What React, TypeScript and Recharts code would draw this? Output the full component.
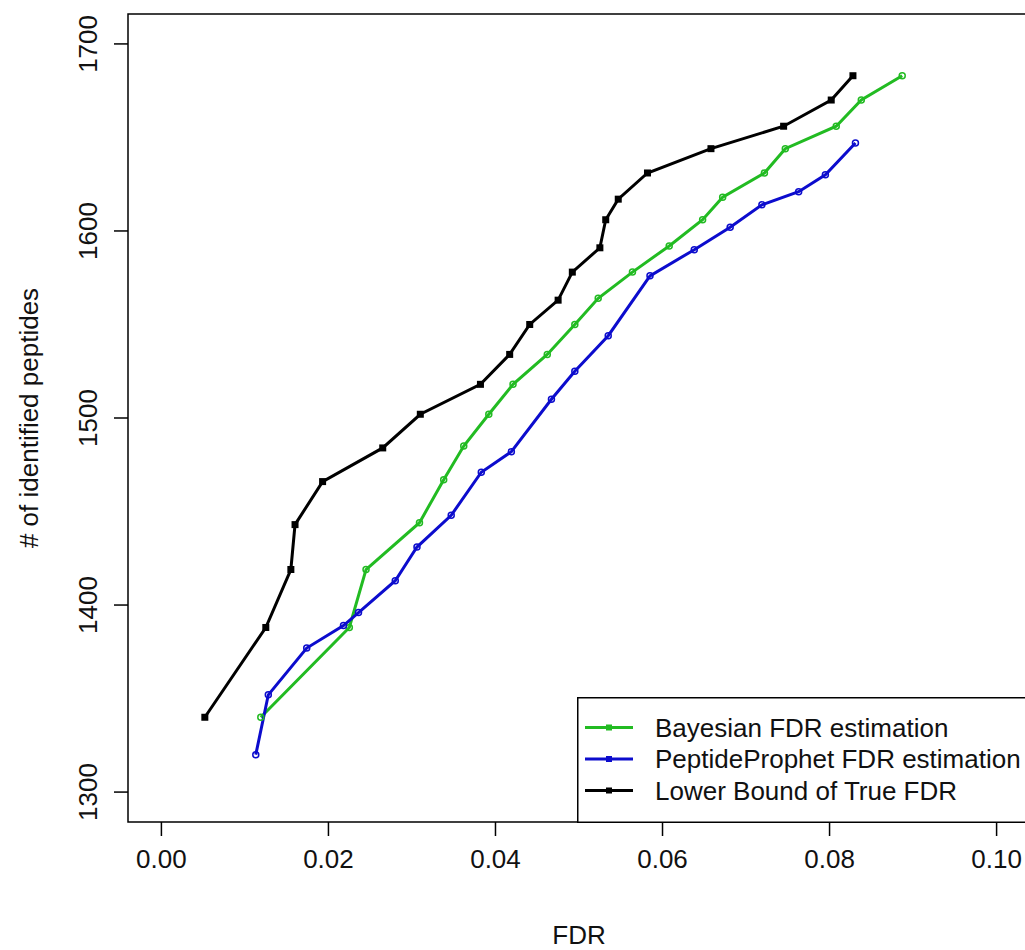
import { ReactElement } from "react";
import {
  LineChart,
  Line,
  XAxis,
  YAxis,
  Legend,
  ReferenceArea,
} from "recharts";

// FDR thresholds and peptide counts per method
const bayesFdr = [
  0.0119, 0.0225, 0.0245, 0.0309, 0.0338, 0.0362, 0.0392, 0.0421, 0.0462, 0.0495,
  0.0523, 0.0564, 0.0608, 0.0648, 0.0672, 0.0722, 0.0747, 0.0808, 0.0838, 0.0887,
];
const bayesPeptides = [
  1340, 1388, 1419, 1444, 1467, 1485, 1502, 1518, 1534, 1550,
  1564, 1578, 1592, 1606, 1618, 1631, 1644, 1656, 1670, 1683,
];

const prophetFdr = [
  0.0113, 0.0128, 0.0174, 0.0218, 0.0236, 0.028, 0.0306, 0.0347, 0.0383, 0.0419,
  0.0467, 0.0495, 0.0535, 0.0585, 0.0638, 0.0681, 0.0719, 0.0763, 0.0795, 0.0831,
];
const prophetPeptides = [
  1320, 1352, 1377, 1389, 1396, 1413, 1431, 1448, 1471, 1482,
  1510, 1525, 1544, 1576, 1590, 1602, 1614, 1621, 1630, 1647,
];

const boundFdr = [
  0.0052, 0.0125, 0.0155, 0.016, 0.0193, 0.0265, 0.031, 0.0382, 0.0417, 0.0441,
  0.0475, 0.0492, 0.0525, 0.0532, 0.0547, 0.0582, 0.0658, 0.0745, 0.0802, 0.0828,
];
const boundPeptides = [
  1340, 1388, 1419, 1443, 1466, 1484, 1502, 1518, 1534, 1550,
  1563, 1578, 1591, 1606, 1617, 1631, 1644, 1656, 1670, 1683,
];

const seriesNames = [
  "Bayesian FDR estimation",
  "PeptideProphet FDR estimation",
  "Lower Bound of True FDR",
];

const xTicks = [0, 0.02, 0.04, 0.06, 0.08, 0.1];
const yTicks = [1300, 1400, 1500, 1600, 1700];

const X_DOMAIN: [number, number] = [-0.004, 0.104];
const Y_DOMAIN: [number, number] = [1284, 1716];

const FONT = "'Liberation Sans', Arial, sans-serif";
const FONT_SIZE = 26;
const GREEN = "#22bb22";
const BLUE = "#0c0ccd";

const toPoints = (xs: number[], ys: number[]) => xs.map((x, i) => ({ fdr: x, count: ys[i] }));

const XTick = (props: any) => {
  const { x, y, payload } = props;
  return (
    <text x={x} y={y + 21} textAnchor="middle" dominantBaseline="central" fontSize={FONT_SIZE} fontFamily={FONT} fill="#111">
      {payload.value.toFixed(2)}
    </text>
  );
};

const YTick = (props: any) => {
  const { x, y, payload } = props;
  const tx = x - 24;
  return (
    <text
      x={tx}
      y={y}
      transform={`rotate(-90, ${tx}, ${y})`}
      textAnchor="middle"
      dominantBaseline="central"
      fontSize={FONT_SIZE}
      fontFamily={FONT}
      fill="#111"
    >
      {payload.value}
    </text>
  );
};

const SquareDot = (props: any) => {
  const { cx, cy, index } = props;
  return <rect key={`sq-${index}`} x={cx - 3.5} y={cy - 3.5} width={7} height={7} fill="#000" />;
};

// legend rows keep the series order, not alphabetical
const LegendBox = (props: any) => {
  const items = [...(props.payload || [])].sort(
    (a: any, b: any) => seriesNames.indexOf(a.value) - seriesNames.indexOf(b.value)
  );
  return (
    <svg width={460} height={126} style={{ display: "block" }}>
      <rect x={0.75} y={0.75} width={470} height={124.5} fill="#fff" stroke="#000" strokeWidth={1.5} />
      {items.map((entry: any, i: number) => {
        const cy = 30.5 + i * 31.5;
        return (
          <g key={entry.value}>
            <line x1={8} x2={56} y1={cy} y2={cy} stroke={entry.color} strokeWidth={3} />
            <rect x={29} y={cy - 3} width={6} height={6} fill={entry.color} />
            <text x={78} y={cy} dominantBaseline="central" fontSize={FONT_SIZE} fontFamily={FONT} fill="#111">
              {entry.value}
            </text>
          </g>
        );
      })}
    </svg>
  );
};

export default function App(): ReactElement {
  const bayes = toPoints(bayesFdr, bayesPeptides);
  const prophet = toPoints(prophetFdr, prophetPeptides);
  const bound = toPoints(boundFdr, boundPeptides);

  return (
    <div
      style={{
        position: "absolute",
        left: 0,
        top: 0,
        width: 1025,
        height: 950,
        overflow: "hidden",
        background: "#fff",
      }}
    >
      <LineChart width={1040} height={950} margin={{ top: 14, right: 10, left: 68, bottom: 98 }}>
        <XAxis
          type="number"
          dataKey="fdr"
          domain={X_DOMAIN}
          ticks={xTicks}
          allowDataOverflow
          height={30}
          tickSize={14}
          tickMargin={2}
          axisLine={false}
          tickLine={{ stroke: "#000", strokeWidth: 1.5 }}
          tick={<XTick />}
          label={{
            content: () => (
              <text x={579} y={935} textAnchor="middle" dominantBaseline="central" fontSize={FONT_SIZE} fontFamily={FONT} fill="#111">
                FDR
              </text>
            ),
          }}
        />
        <YAxis
          type="number"
          dataKey="count"
          domain={Y_DOMAIN}
          ticks={yTicks}
          allowDataOverflow
          width={60}
          tickSize={14}
          tickMargin={2}
          axisLine={false}
          tickLine={{ stroke: "#000", strokeWidth: 1.5 }}
          tick={<YTick />}
          label={{
            content: () => (
              <text
                x={29}
                y={418}
                transform="rotate(-90, 29, 418)"
                textAnchor="middle"
                dominantBaseline="central"
                fontSize={FONT_SIZE}
                fontFamily={FONT}
                fill="#111"
              >
                # of identified peptides
              </text>
            ),
          }}
        />
        <ReferenceArea
          x1={X_DOMAIN[0]}
          x2={X_DOMAIN[1]}
          y1={Y_DOMAIN[0]}
          y2={Y_DOMAIN[1]}
          fill="none"
          stroke="#000"
          strokeWidth={1.5}
          ifOverflow="visible"
        />
        <Line
          data={bayes}
          dataKey="count"
          name={seriesNames[0]}
          stroke={GREEN}
          strokeWidth={3}
          dot={{ r: 3, fill: "none", stroke: GREEN, strokeWidth: 1.5 }}
          activeDot={false}
          isAnimationActive={false}
        />
        <Line
          data={prophet}
          dataKey="count"
          name={seriesNames[1]}
          stroke={BLUE}
          strokeWidth={3}
          dot={{ r: 3, fill: "none", stroke: BLUE, strokeWidth: 1.5 }}
          activeDot={false}
          isAnimationActive={false}
        />
        <Line
          data={bound}
          dataKey="count"
          name={seriesNames[2]}
          stroke="#000"
          strokeWidth={3}
          dot={<SquareDot />}
          activeDot={false}
          isAnimationActive={false}
        />
        <Legend
          layout="horizontal"
          verticalAlign="middle"
          align="center"
          content={<LegendBox />}
          wrapperStyle={{ left: 577, top: 697, width: 460, height: 126 }}
        />
      </LineChart>
    </div>
  );
}
